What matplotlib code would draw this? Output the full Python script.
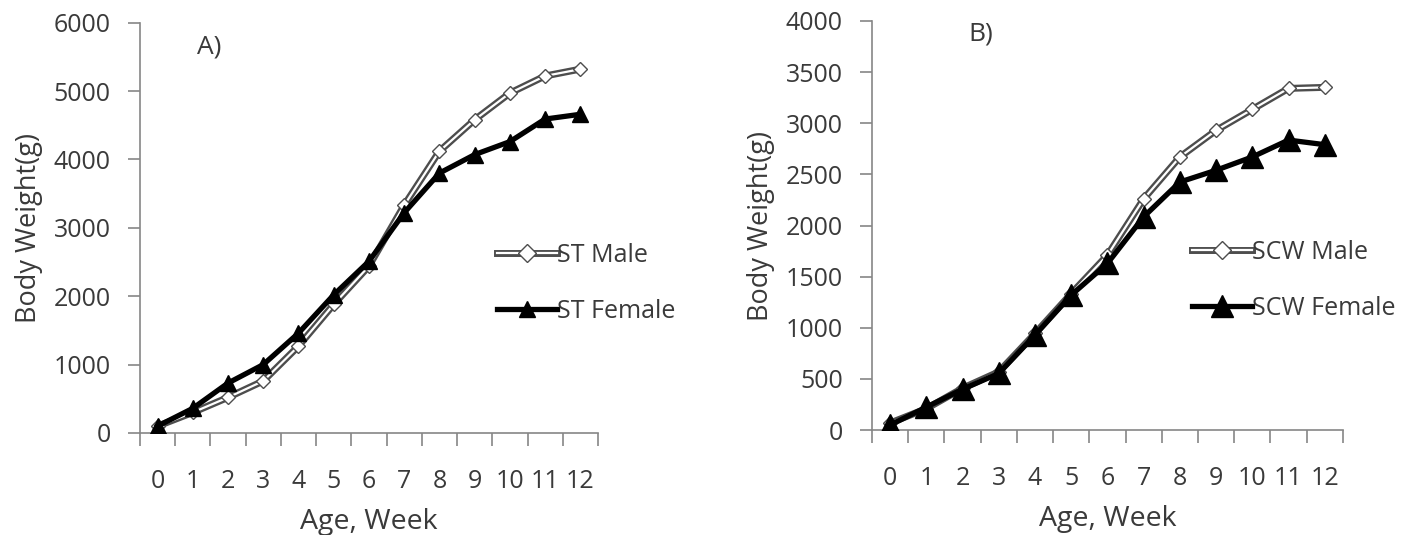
import matplotlib
matplotlib.use('Agg')
import matplotlib.pyplot as plt
from matplotlib.legend_handler import HandlerTuple
from matplotlib.lines import Line2D

plt.rcParams['font.family'] = ['Open Sans', 'DejaVu Sans']

weeks = list(range(13))
week_labels = [str(w) for w in weeks]

st_male = [100, 300, 520, 760, 1270, 1880, 2440, 3330, 4120, 4580, 4970, 5220, 5320]
st_female = [100, 360, 730, 1000, 1460, 2020, 2510, 3220, 3800, 4070, 4260, 4590, 4660]

scw_male = [70, 210, 410, 570, 945, 1335, 1710, 2260, 2670, 2930, 3135, 3340, 3350]
scw_female = [50, 225, 400, 555, 930, 1320, 1630, 2085, 2425, 2540, 2670, 2835, 2790]

txt = '#3a3a3a'
axis_col = '#868686'
fs = 18

fig = plt.figure(figsize=(14.18, 5.35), dpi=100)
ax1 = fig.add_axes([0.0987, 0.1907, 0.323, 0.767])
ax2 = fig.add_axes([0.615, 0.196, 0.332, 0.765])


def draw(ax, male, female, ymax, ystep, names, tag, tag_pos, tri_size, leg_anchor):
    # male: double line (grey outer, white inner) with open diamonds
    ax.plot(weeks, male, color='#4d4d4d', lw=5.0, solid_joinstyle='round', zorder=2)
    ax.plot(weeks, male, color='white', lw=1.6, zorder=3)
    ax.plot(weeks, male, ls='none', marker='D', ms=7, mfc='white', mec='#4d4d4d', mew=1.0, zorder=4)
    # female: thick black line with triangles
    ax.plot(weeks, female, color='black', lw=3.8, marker='^', ms=tri_size, zorder=5)

    h_male = (Line2D([], [], color='#4d4d4d', lw=5.0),
              Line2D([], [], color='white', lw=1.6),
              Line2D([], [], ls='none', marker='D', ms=9, mfc='white', mec='#4d4d4d', mew=1.0))
    h_fem = Line2D([], [], color='black', lw=3.8, marker='^', ms=tri_size)
    leg = ax.legend([h_male, h_fem], names, handler_map={tuple: HandlerTuple(ndivide=1, pad=0)},
                    loc='center left', bbox_to_anchor=leg_anchor, frameon=False, fontsize=fs,
                    handlelength=2.4, handletextpad=0.0, labelspacing=1.25, numpoints=1,
                    borderaxespad=0, borderpad=0)
    for t in leg.get_texts():
        t.set_color(txt)

    ax.set_xlim(-0.5, 12.5)
    ax.set_ylim(0, ymax)
    ax.set_yticks(range(0, ymax + 1, ystep))
    ax.set_xticks(weeks)
    ax.set_xticklabels(week_labels)
    ax.set_xticks([w - 0.5 for w in weeks] + [12.5], minor=True)
    ax.tick_params(axis='x', which='major', length=0, pad=26, labelsize=fs, labelcolor=txt)
    ax.tick_params(axis='x', which='minor', length=9, width=1.2, color=axis_col, direction='out')
    ax.tick_params(axis='y', length=9, width=1.2, color=axis_col, pad=12, labelsize=fs, labelcolor=txt)

    for s in ['top', 'right']:
        ax.spines[s].set_visible(False)
    for s in ['left', 'bottom']:
        ax.spines[s].set_color(axis_col)
        ax.spines[s].set_linewidth(1.2)

    ax.set_xlabel('Age, Week', fontsize=20.5, color=txt, labelpad=10)
    ax.set_ylabel('Body Weight(g)', fontsize=19.5, color=txt, labelpad=8)
    ax.text(tag_pos[0], tag_pos[1], tag, transform=ax.transAxes, fontsize=19, color=txt,
            ha='left', va='center')


draw(ax1, st_male, st_female, 6000, 1000, ['ST Male', 'ST Female'], 'A)', (0.125, 0.94), 11,
     (0.78, 0.365))
draw(ax2, scw_male, scw_female, 4000, 500, ['SCW Male', 'SCW Female'], 'B)', (0.205, 0.967), 16,
     (0.68, 0.366))

fig.savefig('out.png', dpi=100)
